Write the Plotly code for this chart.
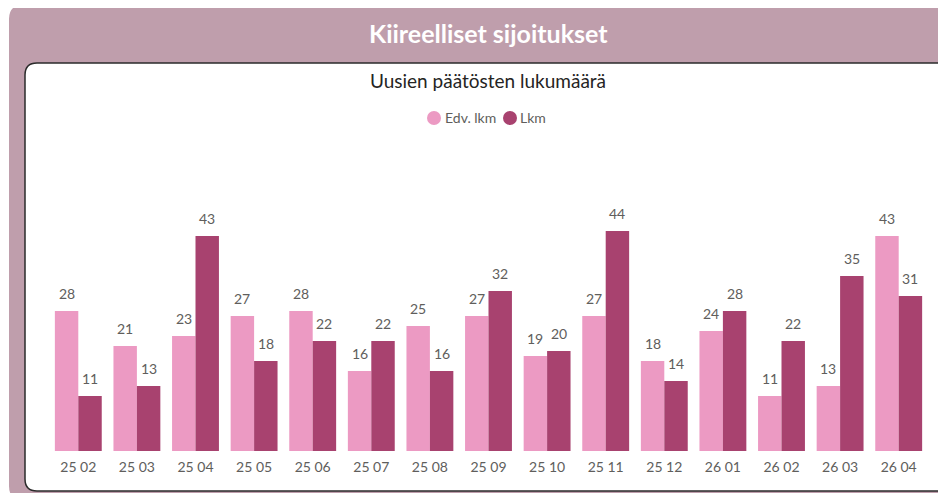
import plotly.graph_objects as go

# kuukaudet (vv kk)
months = ["25 02", "25 03", "25 04", "25 05", "25 06", "25 07", "25 08", "25 09",
          "25 10", "25 11", "25 12", "26 01", "26 02", "26 03", "26 04"]
edv_lkm = [28, 21, 23, 27, 28, 16, 25, 27, 19, 27, 18, 24, 11, 13, 43]
lkm = [11, 13, 43, 18, 22, 22, 16, 32, 20, 44, 14, 28, 22, 35, 31]

LIGHT = "#EC9AC3"
DARK = "#A8426F"
MAUVE = "#BF9EAC"
GREY = "#605E5C"
FONT = "Lato"

# page body has an 8px margin, so the figure is drawn 8px smaller / shifted
OFF = 8
W, H = 946 - OFF, 493 - OFF
# plot area in reference pixels
L, R, T, B = 49, 928, 151, 451


def px(x):
    return (x - L) / (R - L)


def py(y):
    return (B - y) / (B - T)


def rounded(x0, y0, x1, y1, r):
    # rounded rectangle path in paper coords, given in pixels
    pts = [
        f"M {px(x0 + r)},{py(y0)}",
        f"L {px(x1 - r)},{py(y0)}",
        f"Q {px(x1)},{py(y0)} {px(x1)},{py(y0 + r)}",
        f"L {px(x1)},{py(y1 - r)}",
        f"Q {px(x1)},{py(y1)} {px(x1 - r)},{py(y1)}",
        f"L {px(x0 + r)},{py(y1)}",
        f"Q {px(x0)},{py(y1)} {px(x0)},{py(y1 - r)}",
        f"L {px(x0)},{py(y0 + r)}",
        f"Q {px(x0)},{py(y0)} {px(x0 + r)},{py(y0)}",
        "Z",
    ]
    return " ".join(pts)


fig = go.Figure()
fig.add_trace(go.Bar(x=months, y=edv_lkm, name="Edv. lkm", marker_color=LIGHT,
                     marker_line_width=0))
fig.add_trace(go.Bar(x=months, y=lkm, name="Lkm", marker_color=DARK,
                     marker_line_width=0))

# bar width in pixels -> shift of data labels onto each bar of the group
step = (R - L) / len(months)
half = step * 0.8 / 4

annotations = []
for m, a, b in zip(months, edv_lkm, lkm):
    for val, sh in [(a, -half), (b, half)]:
        annotations.append(dict(
            x=m, y=val, text=str(val), showarrow=False, xanchor="center",
            yanchor="bottom", xshift=sh, yshift=7,
            font=dict(size=14, color=GREY, family=FONT)))

annotations += [
    dict(text="<b>Kiireelliset sijoitukset</b>", xref="paper", yref="paper",
         x=px(488), y=py(33), xanchor="center", yanchor="middle", showarrow=False,
         font=dict(size=25, color="white", family=FONT)),
    dict(text="Uusien päätösten lukumäärä", xref="paper", yref="paper",
         x=px(488), y=py(80), xanchor="center", yanchor="middle", showarrow=False,
         font=dict(size=19, color="#252423", family=FONT)),
    dict(text="Edv. lkm", xref="paper", yref="paper",
         x=px(443), y=py(118), xanchor="left", yanchor="middle", showarrow=False,
         font=dict(size=14, color=GREY, family=FONT)),
    dict(text="Lkm", xref="paper", yref="paper",
         x=px(518), y=py(118), xanchor="left", yanchor="middle", showarrow=False,
         font=dict(size=14, color=GREY, family=FONT)),
]

shapes = [
    dict(type="path", xref="paper", yref="paper", layer="below",
         path=rounded(9, 5, 960, 500, 14), fillcolor=MAUVE, line_width=0),
    dict(type="path", xref="paper", yref="paper", layer="below",
         path=rounded(25, 63, 958, 491, 12), fillcolor="white",
         line=dict(color="#2B2B2B", width=1.5)),
    # legend dots
    dict(type="circle", xref="paper", yref="paper", fillcolor=LIGHT, line_width=0,
         x0=px(427), x1=px(441), y0=py(111), y1=py(125)),
    dict(type="circle", xref="paper", yref="paper", fillcolor=DARK, line_width=0,
         x0=px(503), x1=px(517), y0=py(111), y1=py(125)),
]

fig.update_layout(
    width=W, height=H,
    margin=dict(l=L - OFF, r=946 - R, t=T - OFF, b=493 - B, pad=0),
    paper_bgcolor="white", plot_bgcolor="rgba(0,0,0,0)",
    barmode="group", bargap=0.2, bargroupgap=0,
    font=dict(family=FONT, color=GREY),
    shapes=shapes, annotations=annotations,
    showlegend=False,
)
fig.update_xaxes(showgrid=False, showline=False, zeroline=False, ticks="",
                 tickfont=dict(size=14, color=GREY, family=FONT), ticklabelstandoff=6)
fig.update_yaxes(range=[0, 60], visible=False, showgrid=False)

fig.write_html("out.html")
